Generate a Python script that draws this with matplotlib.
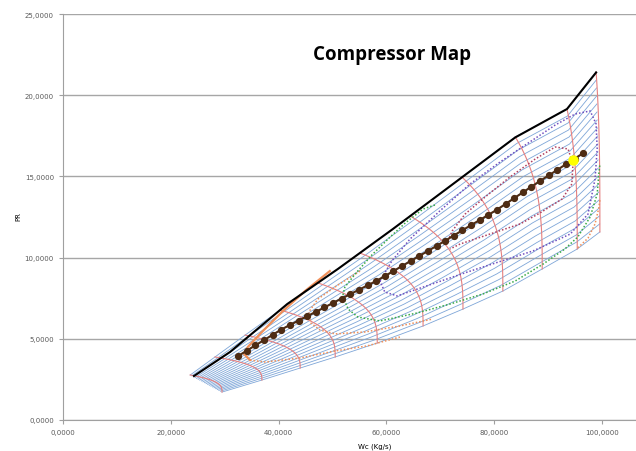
import numpy as np
import matplotlib.pyplot as plt

# speed lines: surge end (top) and choke end (bottom)
sl_wc_top = [23.6, 28.2, 33.8, 40.3, 47.3, 55.1, 64.4, 74.0, 83.9, 93.5, 98.9]
sl_pr_top = [2.77, 3.88, 5.23, 6.77, 8.44, 10.28, 12.56, 14.96, 17.43, 19.15, 21.43]
sl_wc_bot = [29.5, 36.9, 44.0, 50.5, 58.3, 66.8, 74.2, 81.6, 88.9, 95.4, 99.6]
sl_pr_bot = [1.72, 2.46, 3.20, 3.88, 4.74, 5.79, 6.83, 7.94, 9.30, 10.53, 11.58]
n_beta = 21

# surge line
surge_wc = [24.3, 31.0, 41.6, 51.0, 61.2, 83.9, 93.5, 98.9]
surge_pr = [2.71, 4.19, 7.14, 9.30, 11.76, 17.40, 19.15, 21.40]

# operating line
op_wc = [32.5, 34.1, 35.7, 37.3, 38.9, 40.5, 42.1, 43.7, 45.3, 46.9, 48.5, 50.1, 51.7, 53.3,
         54.9, 56.5, 58.1, 59.7, 61.3, 62.9, 64.5, 66.1, 67.7, 69.3, 70.9, 72.5, 74.1, 75.7,
         77.3, 78.9, 80.5, 82.1, 83.7, 85.3, 86.9, 88.5, 90.1, 91.7, 93.3, 94.9, 96.5]
op_pr = [3.94, 4.27, 4.60, 4.92, 5.25, 5.57, 5.85, 6.12, 6.39, 6.66, 6.93, 7.21, 7.48, 7.75,
         8.02, 8.29, 8.56, 8.86, 9.17, 9.48, 9.79, 10.10, 10.41, 10.72, 11.04, 11.36, 11.68, 12.00,
         12.31, 12.63, 12.95, 13.30, 13.66, 14.01, 14.37, 14.72, 15.06, 15.40, 15.75, 16.09, 16.43]
design_wc = [94.6]
design_pr = [16.0]

# efficiency contours
eff_or1_wc = [49.5, 44.9, 40.8, 36.9, 34.3, 33.6, 34.7, 37.5, 44.0, 50.5, 56.4, 62.5]
eff_or1_pr = [9.17, 7.94, 6.71, 5.42, 4.50, 4.06, 3.69, 3.57, 3.82, 4.25, 4.56, 5.11]
eff_or1b_wc = [95.5, 97.4, 98.7, 99.4, 99.6]
eff_or1b_pr = [10.60, 11.20, 12.07, 13.05, 13.55]
eff_or2_wc = [55.1, 51.0, 47.3, 45.6, 46.0, 47.7, 50.5, 56.0, 62.5, 68.6]
eff_or2_pr = [9.17, 8.31, 7.45, 6.65, 5.97, 5.54, 5.30, 5.42, 5.79, 6.22]
eff_gr_wc = [69.0, 66.8, 63.5, 60.7, 57.3, 54.2, 52.3, 51.9, 52.9, 54.7, 58.8, 65.7, 71.8,
             77.9, 83.9, 89.1, 93.1, 95.5, 97.8, 99.1, 99.4, 99.6]
eff_gr_pr = [13.24, 12.99, 12.13, 11.27, 10.16, 8.99, 8.19, 7.64, 6.83, 6.34, 6.10, 6.59, 7.14,
             7.76, 8.56, 9.61, 10.53, 11.27, 12.50, 13.92, 15.15, 15.76]
eff_pu_wc = [58.8, 61.0, 64.4, 69.9, 75.5, 81.1, 86.6, 91.3, 95.0, 97.8, 98.9, 99.1, 98.7,
             97.4, 94.1, 87.2, 75.0, 62.0, 59.7, 58.8]
eff_pu_pr = [8.56, 9.79, 11.15, 12.87, 14.53, 15.89, 17.12, 18.16, 18.84, 19.03, 18.23, 16.69,
             14.84, 12.68, 11.45, 10.41, 9.11, 7.64, 7.88, 8.56]
eff_mr_wc = [71.2, 72.2, 74.6, 78.3, 82.9, 87.6, 91.3, 93.7, 94.6, 94.4, 92.6, 88.5, 84.8,
             79.2, 73.7, 71.8]
eff_mr_pr = [10.84, 11.64, 12.68, 13.73, 14.96, 16.07, 16.81, 16.69, 15.76, 14.53, 13.61, 12.75,
             12.07, 11.45, 10.84, 10.53]

fig = plt.figure(figsize=(6.36, 4.52), dpi=100)
ax = fig.add_axes([0.099, 0.0686, 0.901, 0.8982])

# beta lines (blue) between the surge-side and choke-side ends of the speed lines
top_wc = np.array(sl_wc_top)
top_pr = np.array(sl_pr_top)
bot_wc = np.array(sl_wc_bot)
bot_pr = np.array(sl_pr_bot)
for b in np.linspace(0, 1, n_beta):
    ax.plot(top_wc + (bot_wc - top_wc) * b, top_pr + (bot_pr - top_pr) * b,
            color='#7ea6d8', lw=0.6, zorder=2)

# speed lines (red)
t = np.linspace(0, 1, 60)
for i in range(len(sl_wc_top)):
    fx = 1 - (1 - t) ** 3
    ax.plot(top_wc[i] + (bot_wc[i] - top_wc[i]) * fx, top_pr[i] + (bot_pr[i] - top_pr[i]) * t,
            color='#e58080', lw=0.8, zorder=3)

ax.plot(surge_wc, surge_pr, color='black', lw=1.5, zorder=5)

dots = (0, (1, 1.3))
ax.plot(eff_or1_wc[:7], eff_or1_pr[:7], color='#f0905a', lw=1.6, zorder=4)
ax.plot(eff_or1_wc[6:], eff_or1_pr[6:], color='#f0905a', lw=1.1, ls=dots, zorder=4)
ax.plot(eff_or1b_wc, eff_or1b_pr, color='#f0905a', lw=1.1, ls=dots, zorder=4)
ax.plot(eff_or2_wc, eff_or2_pr, color='#f0905a', lw=1.1, ls=dots, zorder=4)
ax.plot(eff_gr_wc, eff_gr_pr, color='#3aaa48', lw=1.1, ls=dots, zorder=4)
ax.plot(eff_pu_wc, eff_pu_pr, color='#7050c0', lw=1.1, ls=dots, zorder=4)
ax.plot(eff_mr_wc, eff_mr_pr, color='#b04060', lw=1.1, ls=dots, zorder=4)

ax.plot(op_wc, op_pr, color='#4e2c14', lw=1.5, marker='o', ms=4.2, zorder=6)
ax.plot(design_wc, design_pr, 'o', color='#ffff00', ms=6.5, zorder=7)

ax.set_xlim(0, 106.3)
ax.set_ylim(0, 25)
ax.set_xticks([0, 20, 40, 60, 80, 100])
ax.set_yticks([0, 5, 10, 15, 20, 25])
ax.set_xticklabels([f'{v:.4f}'.replace('.', ',') for v in ax.get_xticks()])
ax.set_yticklabels([f'{v:.4f}'.replace('.', ',') for v in ax.get_yticks()])
ax.tick_params(labelsize=5, colors='#595959', length=3, width=0.8)
ax.tick_params(axis='x', color='#a0a0a0')
ax.tick_params(axis='y', color='#a0a0a0')
ax.grid(axis='y', color='#a6a6a6', lw=1)
ax.set_axisbelow(True)
for s in ['top', 'right']:
    ax.spines[s].set_visible(False)
for s in ['left', 'bottom']:
    ax.spines[s].set_color('#a0a0a0')

fig.text(392 / 636, 1 - 55 / 452, 'Compressor Map', fontsize=13.5, fontweight='bold',
         family='Open Sans', ha='center', va='center')
fig.text(18 / 636, 1 - 217 / 452, 'PR', rotation=90, fontsize=5, ha='center', va='center')
fig.text(375 / 636, 1 - 447 / 452, 'Wc (Kg/s)', fontsize=5, ha='center', va='center')

fig.savefig('out.png', dpi=100)
